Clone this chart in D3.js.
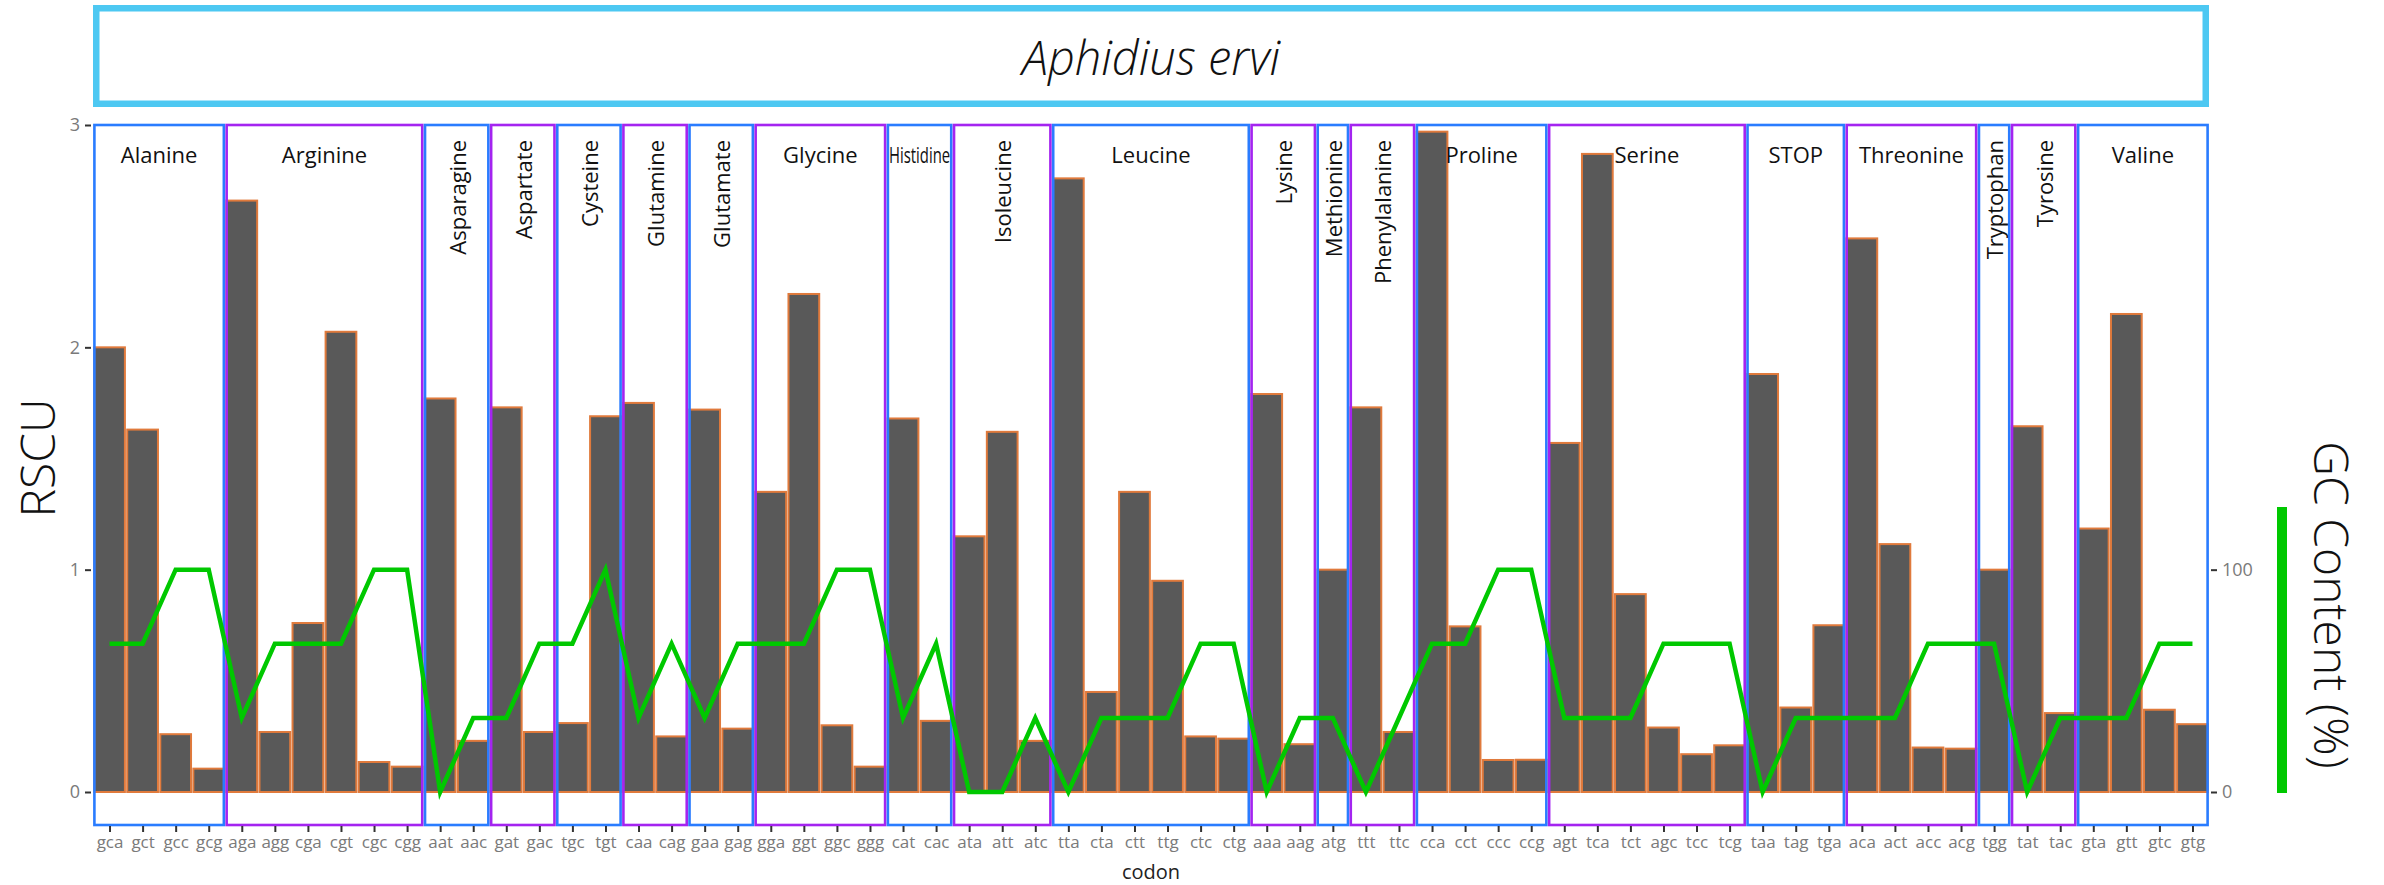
<!DOCTYPE html>
<html>
<head>
<meta charset="utf-8">
<title>Aphidius ervi – codon usage</title>
<script src="https://cdn.jsdelivr.net/npm/d3@7"></script>
<style>
  html, body { margin: 0; padding: 0; background: #fff; }
  svg { display: block; }
  text { font-family: "Segoe UI", "Open Sans", "Noto Sans", sans-serif; }
</style>
</head>
<body>
<svg id="chart" width="2384" height="885"></svg>
<script>
// Codons, grouped by the amino acid they encode (in plotting order)
const codons = [
  "gca","gct","gcc","gcg",
  "aga","agg","cga","cgt","cgc","cgg",
  "aat","aac",
  "gat","gac",
  "tgc","tgt",
  "caa","cag",
  "gaa","gag",
  "gga","ggt","ggc","ggg",
  "cat","cac",
  "ata","att","atc",
  "tta","cta","ctt","ttg","ctc","ctg",
  "aaa","aag",
  "atg",
  "ttt","ttc",
  "cca","cct","ccc","ccg",
  "agt","tca","tct","agc","tcc","tcg",
  "taa","tag","tga",
  "aca","act","acc","acg",
  "tgg",
  "tat","tac",
  "gta","gtt","gtc","gtg"
];

// Relative synonymous codon usage per codon
const rscu = [
  2.00, 1.63, 0.26, 0.105,
  2.66, 0.27, 0.76, 2.07, 0.135, 0.114,
  1.77, 0.23,
  1.73, 0.27,
  0.31, 1.69,
  1.75, 0.25,
  1.72, 0.285,
  1.35, 2.24, 0.30, 0.114,
  1.68, 0.32,
  1.15, 1.62, 0.23,
  2.76, 0.45, 1.35, 0.95, 0.25, 0.24,
  1.79, 0.215,
  1.00,
  1.73, 0.27,
  2.97, 0.745, 0.144, 0.145,
  1.57, 2.87, 0.89, 0.29, 0.17, 0.21,
  1.88, 0.38, 0.75,
  2.49, 1.115, 0.20, 0.195,
  1.00,
  1.645, 0.355,
  1.185, 2.15, 0.37, 0.305
];

// GC content (%) per codon
const gcContent = [
  66.7, 66.7, 100, 100,
  33.3, 66.7, 66.7, 66.7, 100, 100,
  0, 33.3,
  33.3, 66.7,
  66.7, 100,
  33.3, 66.7,
  33.3, 66.7,
  66.7, 66.7, 100, 100,
  33.3, 66.7,
  0, 0, 33.3,
  0, 33.3, 33.3, 33.3, 66.7, 66.7,
  0, 33.3,
  33.3,
  0, 33.3,
  66.7, 66.7, 100, 100,
  33.3, 33.3, 33.3, 66.7, 66.7, 66.7,
  0, 33.3, 33.3,
  33.3, 33.3, 66.7, 66.7,
  66.7,
  0, 33.3,
  33.3, 33.3, 66.7, 66.7
];

// Amino acid groups and how many codons each one spans
const aminoAcids = [
  "Alanine","Arginine","Asparagine","Aspartate","Cysteine","Glutamine","Glutamate",
  "Glycine","Histidine","Isoleucine","Leucine","Lysine","Methionine","Phenylalanine",
  "Proline","Serine","STOP","Threonine","Tryptophan","Tyrosine","Valine"
];
const codonsPerAmino = [4, 6, 2, 2, 2, 2, 2, 4, 2, 3, 6, 2, 1, 2, 4, 6, 3, 4, 1, 2, 4];
// Group names written upright (rotated) inside narrow strips
const uprightNames = [
  "Asparagine","Aspartate","Cysteine","Glutamine","Glutamate","Isoleucine",
  "Lysine","Methionine","Phenylalanine","Tryptophan","Tyrosine"
];

const rscuTicks = [0, 1, 2, 3];
const gcTicks = [0, 100];

const title = "Aphidius ervi";

// ---------------------------------------------------------------------------
const svg = d3.select("#chart");

const left = 93, right = 2209;
const panelTop = 125, panelBottom = 825;

const cell = d3.scaleBand().domain(codons).range([left, right]).padding(0);
const step = cell.bandwidth();
const barW = step * 0.93;

const y = d3.scaleLinear().domain([0, 3]).range([792, panelTop]);
const yGC = d3.scaleLinear().domain([0, 100]).range([y(0), y(1)]);

const rows = codons.map((c, i) => ({ codon: c, rscu: rscu[i], gc: gcContent[i] }));

// Groups with their first codon index
let start = 0;
const groups = aminoAcids.map((name, i) => {
  const g = { name, start, n: codonsPerAmino[i], color: i % 2 === 0 ? "#2a7cff" : "#a424f0" };
  start += codonsPerAmino[i];
  return g;
});

// Title banner
svg.append("rect")
  .attr("x", left + 3.25).attr("y", 8.25)
  .attr("width", right - left - 6.5).attr("height", 95.5)
  .attr("fill", "none").attr("stroke", "#4dc8f2").attr("stroke-width", 6.5);
svg.append("text")
  .attr("x", (left + right) / 2).attr("y", 57)
  .attr("text-anchor", "middle").attr("dominant-baseline", "central")
  .attr("font-size", 47).attr("font-style", "italic").attr("font-weight", 300).attr("fill", "#111")
  .text(title);

// Bars
svg.append("g").selectAll("rect").data(rows).join("rect")
  .attr("x", d => cell(d.codon) + (step - barW) / 2)
  .attr("y", d => y(d.rscu))
  .attr("width", barW)
  .attr("height", d => y(0) - y(d.rscu))
  .attr("fill", "#595959")
  .attr("stroke", "#e07a3c")
  .attr("stroke-width", 2);

// Amino-acid strips
const strip = svg.append("g").selectAll("g").data(groups).join("g");
strip.append("rect")
  .attr("x", d => cell(codons[d.start]) + 1.4)
  .attr("y", panelTop)
  .attr("width", d => d.n * step - 2.8)
  .attr("height", panelBottom - panelTop)
  .attr("fill", "none")
  .attr("stroke", d => d.color)
  .attr("stroke-width", 2.6);

strip.append("text")
  .each(function (d) {
    const cx = cell(codons[d.start]) + d.n * step / 2;
    const t = d3.select(this).attr("fill", "#111").attr("font-size", 22).text(d.name);
    if (uprightNames.includes(d.name)) {
      t.attr("transform", `translate(${cx},140) rotate(-90)`)
        .attr("text-anchor", "end").attr("dominant-baseline", "central");
    } else {
      t.attr("x", cx).attr("y", 154)
        .attr("text-anchor", "middle").attr("dominant-baseline", "central");
      // squeeze a name that would spill out of its strip
      const room = d.n * step - 5;
      if (this.getComputedTextLength() > room) {
        t.attr("textLength", room).attr("lengthAdjust", "spacingAndGlyphs");
      }
    }
  });

// GC content line
const line = d3.line()
  .x(d => cell(d.codon) + step / 2)
  .y(d => yGC(d.gc));
svg.append("path")
  .datum(rows)
  .attr("d", line)
  .attr("fill", "none")
  .attr("stroke", "#00c800")
  .attr("stroke-width", 4.5)
  .attr("stroke-linejoin", "miter");

// Axes
function styleAxis(g, size) {
  g.select(".domain").remove();
  g.selectAll(".tick line").attr("stroke", "#333").attr("stroke-width", 2);
  g.selectAll(".tick text").attr("fill", "#7a7a7a").attr("font-size", size)
    .attr("font-family", "\"Segoe UI\", \"Open Sans\", \"Noto Sans\", sans-serif");
}

svg.append("g")
  .attr("transform", `translate(${left - 2},0)`)
  .call(d3.axisLeft(y).tickValues(rscuTicks).tickFormat(d3.format("d")).tickSize(6).tickPadding(5))
  .call(g => styleAxis(g, 18));

svg.append("g")
  .attr("transform", `translate(${right + 2},0)`)
  .call(d3.axisRight(yGC).tickValues(gcTicks).tickFormat(d3.format("d")).tickSize(6).tickPadding(5))
  .call(g => styleAxis(g, 18));

const xCenters = d3.scalePoint().domain(codons).range([left + step / 2, right - step / 2]);
svg.append("g")
  .attr("transform", `translate(0,${panelBottom + 1})`)
  .call(d3.axisBottom(xCenters).tickSize(6).tickPadding(4))
  .call(g => styleAxis(g, 17));

// Axis titles
svg.append("text")
  .attr("x", (left + right) / 2).attr("y", 871)
  .attr("text-anchor", "middle").attr("dominant-baseline", "central")
  .attr("font-size", 20).attr("fill", "#222")
  .text("codon");

svg.append("text")
  .attr("transform", "translate(36,458) rotate(-90)")
  .attr("text-anchor", "middle").attr("dominant-baseline", "central")
  .attr("font-size", 48).attr("font-weight", 300).attr("fill", "#111")
  .text("RSCU");

svg.append("rect")
  .attr("x", 2277).attr("y", 507).attr("width", 10).attr("height", 286)
  .attr("fill", "#00c800");

svg.append("text")
  .attr("transform", "translate(2332,605) rotate(90)")
  .attr("text-anchor", "middle").attr("dominant-baseline", "central")
  .attr("font-size", 48).attr("font-weight", 300).attr("fill", "#111")
  .text("GC Content (%)");
</script>
</body>
</html>
